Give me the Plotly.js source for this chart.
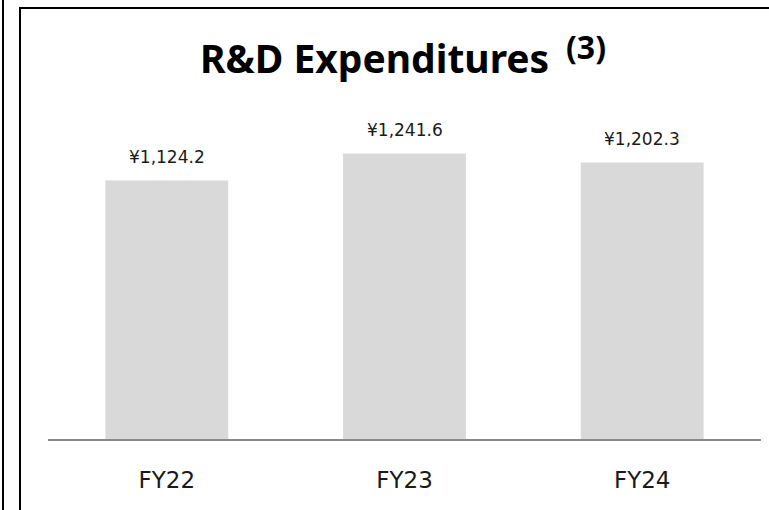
<!DOCTYPE html>
<html><head><meta charset="utf-8">
<script src="https://cdn.plot.ly/plotly-3.0.1.min.js"></script>
<style>
html,body{margin:0;padding:0;background:#fff;overflow:hidden}
#wrap{position:relative;width:769px;height:510px;overflow:hidden}
#chart{position:absolute;left:0;top:0;width:769px;height:510px}
#outer{position:absolute;left:2px;top:0;width:2px;height:510px;background:#000}
#frame{position:absolute;left:19px;top:7px;width:760px;height:510px;border-left:2px solid #000;border-top:2px solid #000;box-sizing:border-box;pointer-events:none}
</style></head>
<body><div id="wrap"><div id="chart"></div><div id="outer"></div><div id="frame"></div></div>
<script>
const categories = ['FY22', 'FY23', 'FY24'];
const expenditures = [1124.2, 1241.6, 1202.3];
const valueLabels = expenditures.map(v => '¥' + v.toLocaleString('en-US', {minimumFractionDigits: 1, maximumFractionDigits: 1}));
const titleText = 'R&amp;D Expenditures';
const footnoteMark = '(3)';

const trace = {
  type: 'bar',
  x: categories,
  y: expenditures,
  width: 0.517,
  marker: {color: '#d9d9d9', line: {width: 0}},
  hoverinfo: 'skip'
};

const annotations = categories.map((c, i) => ({
  x: c, y: expenditures[i], xref: 'x', yref: 'y',
  text: valueLabels[i], showarrow: false,
  yanchor: 'bottom', yshift: 11,
  font: {family: 'DejaVu Sans', size: 17, color: '#1a1a1a'}
}));

annotations.push({
  xref: 'paper', yref: 'paper', x: 0.724, y: 1.066,
  xanchor: 'left', yanchor: 'middle', showarrow: false,
  text: footnoteMark,
  font: {family: 'Noto Sans', size: 32, weight: 'bold', color: '#000'}
});

const layout = {
  width: 769, height: 510,
  margin: {l: 48, r: 8, t: 71, b: 71},
  paper_bgcolor: 'rgba(0,0,0,0)', plot_bgcolor: 'rgba(0,0,0,0)',
  showlegend: false,
  title: {
    text: titleText,
    font: {family: 'Noto Sans', size: 39, weight: 'bold', color: '#000'},
    x: 0.458, xref: 'paper', xanchor: 'center',
    y: 0.884, yref: 'container', yanchor: 'middle'
  },
  xaxis: {
    type: 'category', range: [-0.5, 2.5],
    showline: true, linecolor: '#898989', linewidth: 2,
    ticks: '', showgrid: false, zeroline: false,
    tickfont: {family: 'DejaVu Sans', size: 23, color: '#1a1a1a'},
    ticklabelstandoff: 19, fixedrange: true
  },
  yaxis: {
    range: [0, 1600], visible: false, showgrid: false, zeroline: false, fixedrange: true
  },
  annotations: annotations
};

Plotly.newPlot('chart', [trace], layout, {displayModeBar: false, staticPlot: true});
</script>
</body></html>
